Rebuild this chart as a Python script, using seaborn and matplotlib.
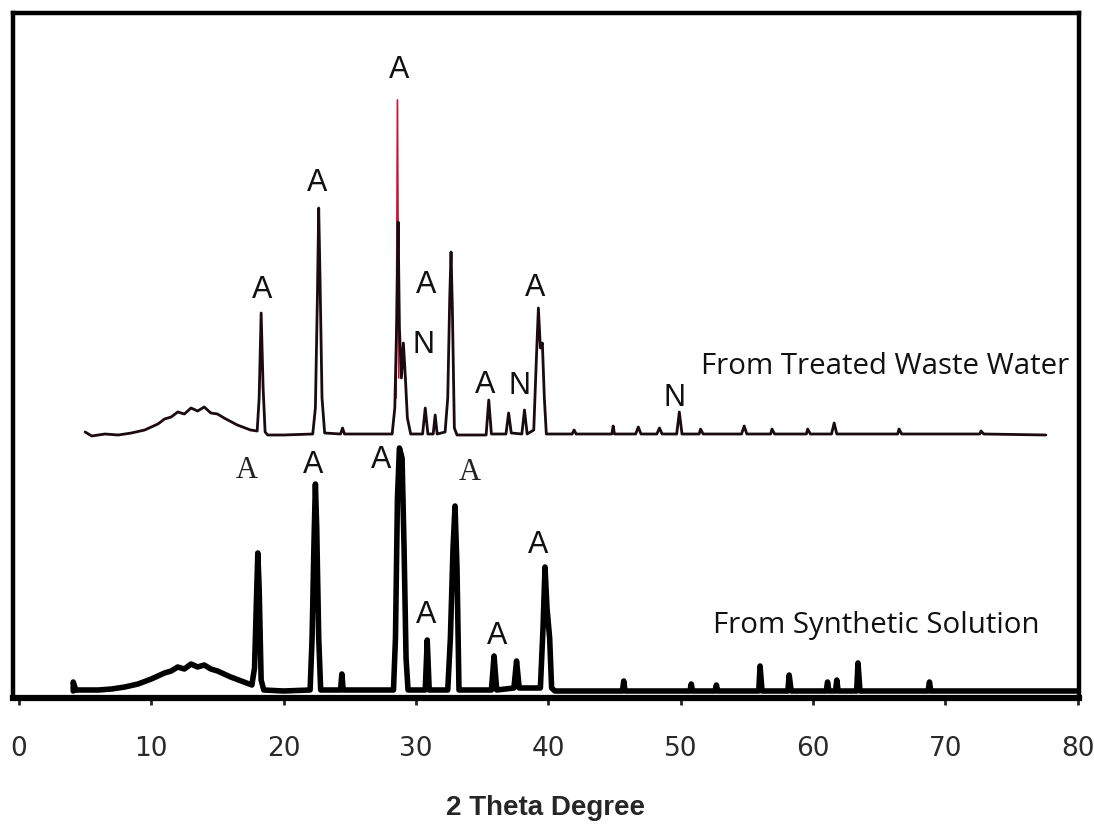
import numpy as np
import pandas as pd
import seaborn as sns
import matplotlib.pyplot as plt

# XRD pattern, treated waste water (upper trace, offset baseline)
waste_2theta = [5.0, 5.5, 6.5, 7.5, 8.5, 9.5, 10.5, 11.0, 11.5, 12.0, 12.5, 13.0, 13.5, 14.0, 14.5,
                15.0, 15.5, 16.5, 17.5, 18.0,
                18.15, 18.3, 18.45, 18.6, 18.8, 20.0, 22.2, 22.4, 22.55, 22.65, 22.75, 22.9, 23.1,
                24.3, 24.45, 24.6, 28.2, 28.4, 28.55, 28.65, 28.75, 28.9, 29.05, 29.2, 29.35, 29.6,
                30.5, 30.7, 30.9, 31.3, 31.45, 31.6, 32.2, 32.4, 32.55, 32.65, 32.75, 32.9, 33.1,
                35.3, 35.5, 35.7, 36.8, 37.0, 37.2, 38.0, 38.2, 38.4, 38.9, 39.1, 39.25, 39.4, 39.55,
                39.7, 39.85, 41.8, 41.95, 42.1, 44.8, 44.9, 45.0, 46.6, 46.8, 47.0, 48.2, 48.4, 48.6,
                49.7, 49.9, 50.1, 51.4, 51.5, 51.7, 54.6, 54.8, 55.0, 56.8, 56.9, 57.1, 59.5, 59.6,
                59.8, 61.4, 61.6, 61.8, 66.4, 66.5, 66.7, 72.6, 72.7, 72.9, 77.6]
waste_counts = [266, 262, 264, 263, 265, 268, 274, 279, 281, 286, 284, 290, 287, 291, 285,
                284, 280, 273, 268, 267,
                300, 385, 310, 266, 263, 263, 264, 290, 400, 490, 420, 300, 265,
                264, 270, 264, 264, 290, 380, 476, 370, 320, 355, 320, 280, 264,
                264, 290, 264, 264, 283, 264, 266, 300, 400, 446, 390, 270, 263,
                263, 298, 264, 264, 285, 265, 264, 288, 264, 268, 340, 390, 350, 355,
                300, 264, 264, 268, 264, 264, 272, 264, 264, 271, 264, 264, 270, 264,
                264, 286, 264, 264, 269, 264, 264, 272, 264, 264, 269, 264, 264, 269,
                264, 264, 275, 264, 264, 269, 264, 264, 267, 264, 263]

# red overlay scan that reaches higher on the main reflection
waste_red_2theta = [28.5, 28.6, 28.7]
waste_red_counts = [300, 598, 320]

# XRD pattern, synthetic solution (lower trace)
synth_2theta = [4.1, 4.1, 4.3, 6.0, 7.0, 8.0, 9.0, 10.0, 10.5, 11.0, 11.5, 12.0, 12.5, 13.0, 13.5,
                14.0, 14.5, 15.0, 16.0, 17.0,
                17.6, 17.8, 17.95, 18.05, 18.15, 18.3, 18.5, 20.0, 22.0, 22.15, 22.3, 22.4, 22.5,
                22.65, 22.8, 24.3, 24.4, 24.5, 28.3, 28.45, 28.6, 28.75, 28.95, 29.1, 29.25, 29.4,
                30.7, 30.85, 31.0, 32.4, 32.6, 32.8, 32.95, 33.1, 33.25, 35.7, 35.9, 36.1, 37.4,
                37.6, 37.8, 39.4, 39.6, 39.75, 39.9, 40.1, 40.25, 40.5, 45.6, 45.7, 45.8, 50.7,
                50.8, 50.9, 52.6, 52.7, 52.8, 55.9, 56.0, 56.15, 58.1, 58.2, 58.35, 61.0, 61.1,
                61.2, 61.7, 61.8, 61.9, 63.3, 63.4, 63.55, 68.7, 68.8, 68.9, 80.0]
synth_counts = [7, 16, 8, 8, 9, 11, 14, 19, 22, 25, 27, 31, 29, 34, 31,
                33, 29, 27, 21, 16,
                13, 30, 100, 145, 110, 18, 8, 7, 8, 60, 160, 214, 170,
                60, 8, 8, 24, 8, 8, 60, 200, 250, 240, 150, 40, 8,
                8, 58, 8, 8, 60, 150, 192, 130, 8, 8, 42, 8, 10,
                37, 10, 10, 70, 131, 90, 60, 10, 7, 7, 17, 7, 7,
                14, 7, 7, 13, 7, 7, 32, 7, 7, 23, 7, 7, 16,
                7, 7, 18, 7, 7, 35, 7, 7, 16, 7, 7]

# phase markers (A = apatite-like phase, N = other phase)
waste_marks = ["A", "A", "A", "A", "N", "A", "N", "A", "N"]
waste_mark_x = [18.4, 22.5, 28.7, 30.8, 30.6, 35.2, 37.8, 39.0, 49.5]
waste_mark_y = [408, 515, 628, 413, 353, 313, 312, 410, 300]
synth_marks = ["A", "A", "A", "A", "A", "A", "A"]
synth_mark_x = [17.2, 22.2, 27.4, 34.1, 30.8, 36.1, 39.2]
synth_mark_y = [228, 233, 238, 226, 83, 62, 153]
synth_mark_serif = [True, False, False, True, False, False, False]

waste = pd.DataFrame({"two_theta": waste_2theta, "counts": waste_counts})
waste_red = pd.DataFrame({"two_theta": waste_red_2theta, "counts": waste_red_counts})
synth = pd.DataFrame({"two_theta": synth_2theta, "counts": synth_counts})

sns.set_theme(style="white")
plt.rcParams["font.family"] = ["Liberation Sans", "DejaVu Sans"]

fig = plt.figure(figsize=(10.94, 8.27), dpi=100)
ax = fig.add_axes([13 / 1094, 1 - 698 / 827, 1066 / 1094, 685 / 827])

sns.lineplot(data=waste_red, x="two_theta", y="counts", sort=False, estimator=None,
             color="#cc1030", lw=1.2, ax=ax)
sns.lineplot(data=waste, x="two_theta", y="counts", sort=False, estimator=None,
             color="#1a0a12", lw=2.0, ax=ax)
sns.lineplot(data=synth, x="two_theta", y="counts", sort=False, estimator=None,
             color="black", lw=4.0, ax=ax)

for t, x, y in zip(waste_marks, waste_mark_x, waste_mark_y):
    ax.text(x, y, t, ha="center", va="center", fontsize=22, color="#111111")
for t, x, y, serif in zip(synth_marks, synth_mark_x, synth_mark_y, synth_mark_serif):
    if serif:
        ax.text(x, y, t, ha="center", va="center", fontsize=22, color="#222222",
                family=["Liberation Serif", "DejaVu Serif"])
    else:
        ax.text(x, y, t, ha="center", va="center", fontsize=22, color="#111111")

ax.text(51.5, 332, "From Treated Waste Water", ha="left", va="center", fontsize=21.2,
        family=["Open Sans", "DejaVu Sans"], color="#111111")
ax.text(52.45, 73, "From Synthetic Solution", ha="left", va="center", fontsize=21.2,
        family=["Open Sans", "DejaVu Sans"], color="#111111")

ax.set_xlim(-0.45, 80.1)
ax.set_ylim(0, 685)
ax.set_xticks(range(0, 81, 10))
ax.set_yticks([])
ax.set_ylabel("")
ax.set_xlabel("2 Theta Degree", fontsize=20, fontweight="bold", labelpad=24)
ax.tick_params(axis="x", direction="out", length=5, width=2, pad=22, labelsize=19,
               labelcolor="#2a2a2a", bottom=True)
for lab in ax.get_xticklabels():
    lab.set_family(["Liberation Sans Narrow", "DejaVu Sans"])
for s in ax.spines.values():
    s.set_visible(True)
    s.set_color("black")
    s.set_linewidth(3.2)
ax.spines["bottom"].set_linewidth(4.5)

fig.savefig("out.png", dpi=100)
